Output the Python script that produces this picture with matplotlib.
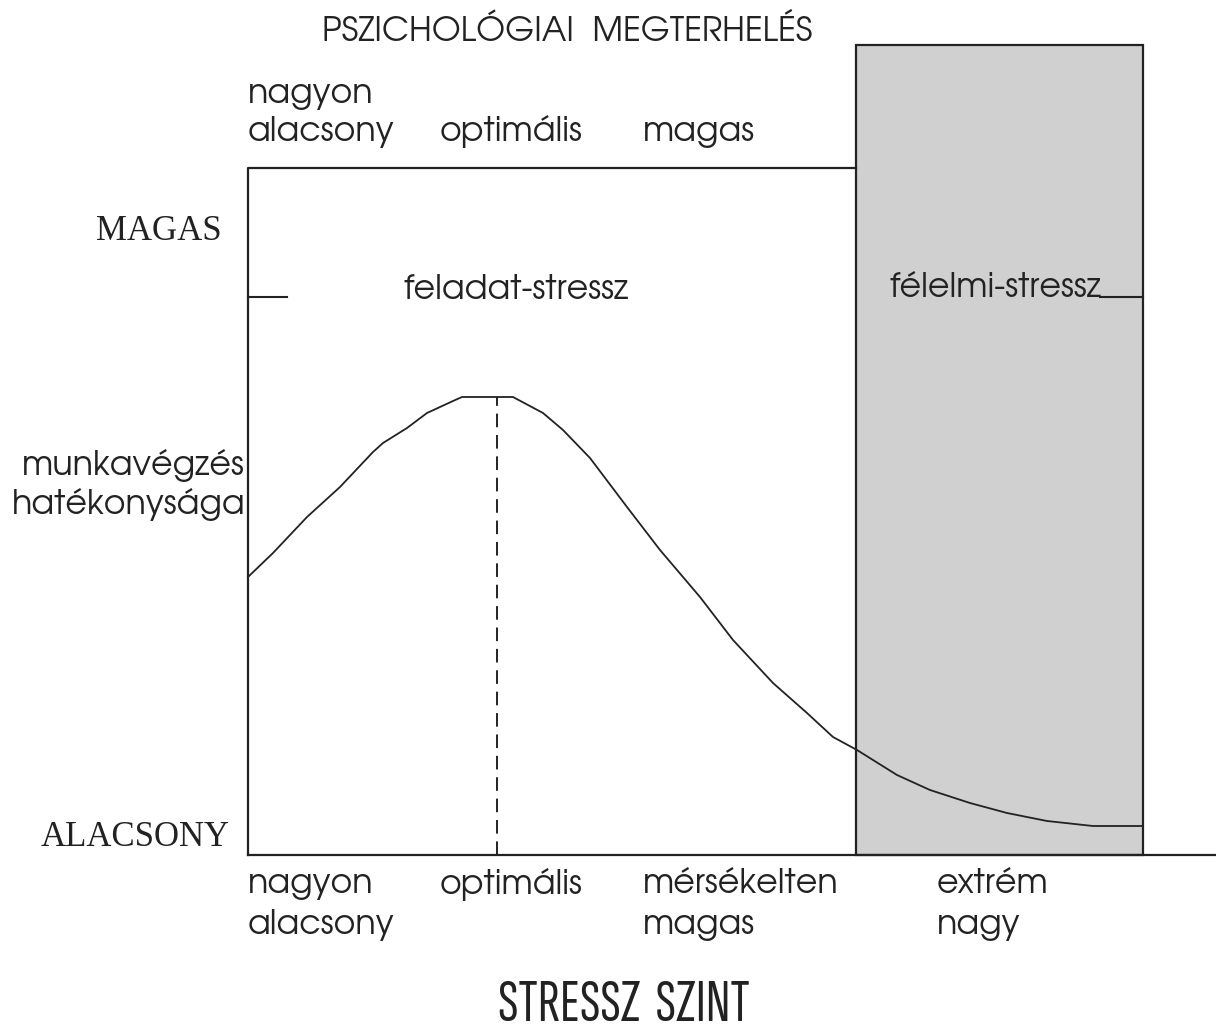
import matplotlib.pyplot as plt
from matplotlib.patches import Rectangle

# stress level (x) vs performance (y); 1 unit = 100 px, origin at axis corner
curve_x = [0, 0.25, 0.59, 0.92, 1.25, 1.35, 1.59, 1.79, 2.05, 2.14, 2.65,
           2.95, 3.15, 3.42, 3.79, 4.12, 4.52, 4.85, 5.25, 5.59, 5.85,
           6.09, 6.49, 6.82, 7.22, 7.59, 7.99, 8.45, 8.95]
curve_y = [2.78, 3.02, 3.38, 3.68, 4.03, 4.12, 4.27, 4.42, 4.54, 4.58, 4.58,
           4.42, 4.25, 3.97, 3.48, 3.05, 2.58, 2.15, 1.72, 1.42, 1.18,
           1.05, 0.80, 0.65, 0.52, 0.42, 0.34, 0.29, 0.29]

optimum_x = 2.49
fear_zone = (6.08, 8.95)      # félelmi-stressz region
fear_top = 8.10
frame_top = 6.87
high_mark = 5.58
axis_end = 9.68

top_labels = ["nagyon\nalacsony", "optimális", "magas"]
top_label_x = [0.0, 1.92, 3.95]
bottom_labels = ["nagyon\nalacsony", "optimális", "mérsékelten\nmagas", "extrém\nnagy"]
bottom_label_x = [0.0, 1.92, 3.95, 6.89]

INK = "#222222"
SANS = ["TeX Gyre Adventor", "URW Gothic", "Questrial", "Didact Gothic", "DejaVu Sans"]
SERIF = ["Liberation Serif", "DejaVu Serif"]
NARROW = ["Sofia Sans Extra Condensed", "Saira ExtraCondensed", "DejaVu Sans"]
FS = 24

fig = plt.figure(figsize=(12.16, 10.31), dpi=100)
ax = fig.add_axes([0, 0, 1, 1])
ax.set_xlim(-2.48, 9.68)
ax.set_ylim(-1.76, 8.55)
ax.axis("off")

# fear-stress zone
ax.add_patch(Rectangle((fear_zone[0], 0), fear_zone[1] - fear_zone[0], fear_top,
                       facecolor="#d0d0d0", edgecolor=INK, linewidth=1.6, zorder=1))

# frame
ax.plot([0, 0, fear_zone[0]], [0, frame_top, frame_top], color=INK, lw=1.6, zorder=2)
ax.plot([0, axis_end], [0, 0], color=INK, lw=1.6, zorder=3)
ax.plot([0, 0.39], [high_mark, high_mark], color=INK, lw=1.5, zorder=2)
ax.plot([8.52, fear_zone[1]], [high_mark, high_mark], color=INK, lw=1.5, zorder=2)

# performance curve and optimum
ax.plot(curve_x, curve_y, color=INK, lw=1.3, zorder=4, solid_joinstyle="round")
ax.plot([optimum_x, optimum_x], [0, max(curve_y)], color=INK, lw=1.4,
        dashes=(7, 4), zorder=2)

# texts
ax.text(3.19, 8.23, "PSZICHOLÓGIAI  MEGTERHELÉS", ha="center", va="center",
        fontsize=FS, family=SANS, color=INK)
for lab, x in zip(top_labels, top_label_x):
    ax.text(x, 7.07, lab, ha="left", va="bottom", fontsize=FS, family=SANS,
            color=INK, linespacing=1.25)
for lab, x in zip(bottom_labels, bottom_label_x):
    ax.text(x, -0.13, lab, ha="left", va="top", fontsize=FS, family=SANS,
            color=INK, linespacing=1.35)

ax.text(-0.26, 6.24, "MAGAS", ha="right", va="center", fontsize=25,
        family=SERIF, color=INK)
ax.text(-0.18, 0.17, "ALACSONY", ha="right", va="center", fontsize=25,
        family=SERIF, color=INK)
ax.text(-0.03, 3.70, "munkavégzés\nhatékonysága", ha="right", va="center",
        fontsize=FS, family=SANS, color=INK, linespacing=1.2)

ax.text(2.68, 5.65, "feladat-stressz", ha="center", va="center", fontsize=FS,
        family=SANS, color=INK)
ax.text(7.47, 5.67, "félelmi-stressz", ha="center", va="center", fontsize=FS,
        family=SANS, color=INK)

ax.text(3.76, -1.66, "STRESSZ  SZINT", ha="center", va="baseline", fontsize=43,
        family=NARROW, color=INK)

fig.savefig("out.png", dpi=100)
